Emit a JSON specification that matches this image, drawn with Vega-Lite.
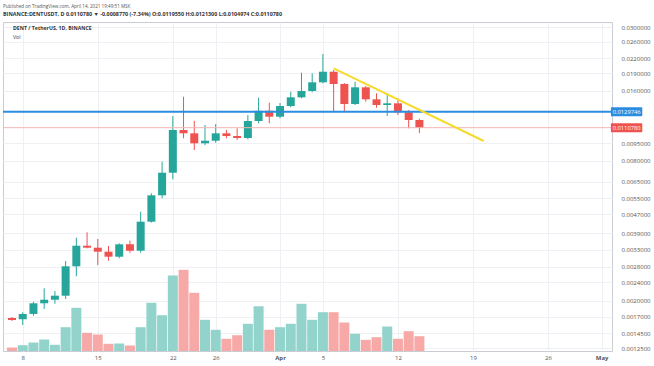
{
  "$schema": "https://vega.github.io/schema/vega-lite/v6.json",
  "width": 609,
  "height": 329,
  "autosize": "none",
  "padding": {"left": 3, "top": 22, "right": 42, "bottom": 14},
  "background": "white",
  "config": {
    "font": "Open Sans",
    "view": {"stroke": "#c9ccd2", "strokeWidth": 1}
  },
  "title": {
    "text": "Published on TradingView.com, April 14, 2021 19:49:51 MSK",
    "subtitle": "BINANCE:DENTUSDT, D 0.0110780 ▼ -0.0008770 (-7.34%) O:0.0119550 H:0.0121300 L:0.0104974 C:0.0110780",
    "anchor": "start",
    "frame": "group",
    "offset": 5,
    "fontSize": 4.6,
    "fontWeight": "normal",
    "color": "#555555",
    "subtitleFontSize": 5.4,
    "subtitleFontWeight": "bold",
    "subtitleColor": "#333333",
    "subtitlePadding": 3
  },
  "datasets": {
    "candles": [
      {"date": "2021-03-07", "open": 0.001683, "high": 0.001700, "low": 0.001634, "close": 0.001650, "volume": 70},
      {"date": "2021-03-08", "open": 0.001662, "high": 0.001781, "low": 0.001570, "close": 0.001752, "volume": 116},
      {"date": "2021-03-09", "open": 0.001752, "high": 0.001977, "low": 0.001722, "close": 0.001947, "volume": 170},
      {"date": "2021-03-10", "open": 0.001947, "high": 0.002259, "low": 0.001840, "close": 0.002017, "volume": 230},
      {"date": "2021-03-11", "open": 0.002017, "high": 0.002199, "low": 0.001938, "close": 0.002099, "volume": 124},
      {"date": "2021-03-12", "open": 0.002099, "high": 0.002959, "low": 0.002032, "close": 0.002808, "volume": 476},
      {"date": "2021-03-13", "open": 0.002808, "high": 0.003728, "low": 0.002543, "close": 0.003443, "volume": 864},
      {"date": "2021-03-14", "open": 0.003443, "high": 0.003931, "low": 0.003356, "close": 0.003376, "volume": 364},
      {"date": "2021-03-15", "open": 0.003376, "high": 0.003680, "low": 0.002844, "close": 0.003245, "volume": 330},
      {"date": "2021-03-16", "open": 0.003245, "high": 0.003433, "low": 0.002967, "close": 0.003088, "volume": 144},
      {"date": "2021-03-17", "open": 0.003088, "high": 0.003526, "low": 0.003040, "close": 0.003491, "volume": 150},
      {"date": "2021-03-18", "open": 0.003491, "high": 0.003618, "low": 0.003212, "close": 0.003277, "volume": 110},
      {"date": "2021-03-19", "open": 0.003277, "high": 0.004821, "low": 0.003212, "close": 0.004367, "volume": 476},
      {"date": "2021-03-20", "open": 0.004367, "high": 0.005784, "low": 0.004330, "close": 0.005671, "volume": 964},
      {"date": "2021-03-21", "open": 0.005671, "high": 0.007909, "low": 0.005505, "close": 0.007093, "volume": 716},
      {"date": "2021-03-22", "open": 0.007093, "high": 0.012434, "low": 0.006644, "close": 0.010825, "volume": 1510},
      {"date": "2021-03-23", "open": 0.010825, "high": 0.015052, "low": 0.009971, "close": 0.010477, "volume": 1624},
      {"date": "2021-03-24", "open": 0.010477, "high": 0.011869, "low": 0.008880, "close": 0.009490, "volume": 1164},
      {"date": "2021-03-25", "open": 0.009490, "high": 0.011373, "low": 0.009330, "close": 0.009736, "volume": 624},
      {"date": "2021-03-26", "open": 0.009736, "high": 0.011486, "low": 0.009545, "close": 0.010477, "volume": 424},
      {"date": "2021-03-27", "open": 0.010477, "high": 0.010825, "low": 0.009971, "close": 0.010201, "volume": 244},
      {"date": "2021-03-28", "open": 0.010201, "high": 0.011009, "low": 0.009805, "close": 0.010000, "volume": 316},
      {"date": "2021-03-29", "open": 0.010000, "high": 0.012557, "low": 0.009872, "close": 0.011833, "volume": 544},
      {"date": "2021-03-30", "open": 0.011833, "high": 0.014904, "low": 0.011567, "close": 0.013103, "volume": 896},
      {"date": "2021-03-31", "open": 0.013103, "high": 0.014184, "low": 0.011567, "close": 0.012348, "volume": 424},
      {"date": "2021-04-01", "open": 0.012348, "high": 0.014141, "low": 0.012155, "close": 0.013727, "volume": 476},
      {"date": "2021-04-02", "open": 0.013727, "high": 0.015816, "low": 0.013552, "close": 0.014962, "volume": 544},
      {"date": "2021-04-03", "open": 0.014962, "high": 0.019088, "low": 0.014816, "close": 0.015925, "volume": 944},
      {"date": "2021-04-04", "open": 0.015925, "high": 0.018977, "low": 0.015723, "close": 0.017359, "volume": 624},
      {"date": "2021-04-05", "open": 0.017359, "high": 0.022972, "low": 0.017187, "close": 0.019279, "volume": 776},
      {"date": "2021-04-06", "open": 0.019279, "high": 0.019606, "low": 0.013064, "close": 0.017068, "volume": 776},
      {"date": "2021-04-07", "open": 0.017068, "high": 0.017238, "low": 0.012975, "close": 0.014002, "volume": 570},
      {"date": "2021-04-08", "open": 0.014002, "high": 0.017461, "low": 0.013865, "close": 0.016520, "volume": 344},
      {"date": "2021-04-09", "open": 0.016520, "high": 0.016733, "low": 0.014325, "close": 0.014669, "volume": 224},
      {"date": "2021-04-10", "open": 0.014669, "high": 0.015567, "low": 0.013499, "close": 0.013865, "volume": 276},
      {"date": "2021-04-11", "open": 0.013865, "high": 0.015567, "low": 0.012434, "close": 0.014100, "volume": 490},
      {"date": "2021-04-12", "open": 0.014100, "high": 0.014816, "low": 0.012557, "close": 0.012900, "volume": 244},
      {"date": "2021-04-13", "open": 0.012900, "high": 0.013195, "low": 0.011009, "close": 0.011955, "volume": 396},
      {"date": "2021-04-14", "open": 0.011955, "high": 0.012130, "low": 0.0104974, "close": 0.011078, "volume": 296}
    ],
    "trend": [
      {"date": "2021-04-06", "price": 0.019939},
      {"date": "2021-04-20", "price": 0.009708}
    ],
    "one": [{}]
  },
  "resolve": {"scale": {"y": "independent"}, "axis": {"y": "independent"}},
  "layer": [
    {
      "data": {"name": "candles"},
      "mark": {"type": "bar", "size": 10},
      "encoding": {
        "x": {
          "field": "date", "type": "temporal",
          "scale": {"type": "utc", "domain": [{"year": 2021, "month": 3, "date": 6, "hours": 15, "utc": true}, {"year": 2021, "month": 5, "date": 1, "hours": 12, "utc": true}]},
          "axis": {
            "values": [
              {"year": 2021, "month": 3, "date": 8, "utc": true},
              {"year": 2021, "month": 3, "date": 15, "utc": true},
              {"year": 2021, "month": 3, "date": 22, "utc": true},
              {"year": 2021, "month": 3, "date": 26, "utc": true},
              {"year": 2021, "month": 4, "date": 1, "utc": true},
              {"year": 2021, "month": 4, "date": 5, "utc": true},
              {"year": 2021, "month": 4, "date": 12, "utc": true},
              {"year": 2021, "month": 4, "date": 19, "utc": true},
              {"year": 2021, "month": 4, "date": 26, "utc": true},
              {"year": 2021, "month": 5, "date": 1, "utc": true}
            ],
            "labelExpr": "utcdate(datum.value) == 1 ? utcFormat(datum.value, '%b') : utcFormat(datum.value, '%-d')",
            "labelFontWeight": {"condition": {"test": "utcdate(datum.value) == 1", "value": "bold"}, "value": "normal"},
            "title": null,
            "grid": true,
            "gridColor": "#eef0f4",
            "ticks": false,
            "domain": false,
            "labelFontSize": 6,
            "labelColor": "#555555",
            "labelPadding": 3
          }
        },
        "y": {"field": "volume", "type": "quantitative", "scale": {"domain": [0, 6580]}, "axis": null},
        "color": {"condition": {"test": "datum.close >= datum.open", "value": "#92d3cc"}, "value": "#f7a9a8"}
      }
    },
    {
      "layer": [
        {
          "data": {"name": "candles"},
          "mark": {"type": "rule", "strokeWidth": 1},
          "encoding": {
            "x": {"field": "date", "type": "temporal"},
            "y": {
              "field": "low", "type": "quantitative",
              "scale": {"type": "log", "domain": [0.001214, 0.03154], "nice": false, "zero": false},
              "axis": {
                "orient": "right",
                "title": null,
                "values": [0.03, 0.026, 0.022, 0.019, 0.016, 0.0095, 0.008, 0.0065, 0.0055, 0.0047, 0.0039, 0.0033, 0.0028, 0.0024, 0.002, 0.0017, 0.00145, 0.00125],
                "format": ".7f",
                "grid": true,
                "gridColor": "#eef0f4",
                "ticks": false,
                "domain": false,
                "labelFontSize": 6,
                "labelColor": "#555555",
                "labelPadding": 9
              }
            },
            "y2": {"field": "high"},
            "color": {"condition": {"test": "datum.close >= datum.open", "value": "#26a69a"}, "value": "#ef5350"}
          }
        },
        {
          "data": {"name": "candles"},
          "mark": {"type": "bar", "size": 8},
          "encoding": {
            "x": {"field": "date", "type": "temporal"},
            "y": {"field": "open", "type": "quantitative"},
            "y2": {"field": "close"},
            "color": {"condition": {"test": "datum.close >= datum.open", "value": "#26a69a"}, "value": "#ef5350"}
          }
        },
        {
          "data": {"name": "one"},
          "mark": {"type": "rule", "color": "#f3b6b5", "strokeWidth": 1},
          "encoding": {"y": {"datum": 0.011078, "type": "quantitative"}}
        },
        {
          "data": {"name": "one"},
          "mark": {"type": "rule", "color": "#2b8de0", "strokeWidth": 2},
          "encoding": {"y": {"datum": 0.0129746, "type": "quantitative"}}
        },
        {
          "data": {"name": "trend"},
          "mark": {"type": "line", "color": "#f6da2c", "strokeWidth": 2},
          "encoding": {
            "x": {"field": "date", "type": "temporal"},
            "y": {"field": "price", "type": "quantitative"}
          }
        },
        {
          "data": {"name": "one"},
          "mark": {"type": "rect", "color": "#2b8de0", "cornerRadius": 1},
          "encoding": {
            "x": {"datum": {"year": 2021, "month": 5, "date": 1, "hours": 20, "minutes": 45, "utc": true}, "type": "temporal"},
            "x2": {"datum": {"year": 2021, "month": 5, "date": 4, "hours": 19, "utc": true}},
            "y": {"datum": 0.013566, "type": "quantitative"},
            "y2": {"datum": 0.012409}
          }
        },
        {
          "data": {"name": "one"},
          "mark": {"type": "rect", "color": "#ef5350", "cornerRadius": 1},
          "encoding": {
            "x": {"datum": {"year": 2021, "month": 5, "date": 1, "hours": 20, "minutes": 45, "utc": true}, "type": "temporal"},
            "x2": {"datum": {"year": 2021, "month": 5, "date": 4, "hours": 19, "utc": true}},
            "y": {"datum": 0.011583, "type": "quantitative"},
            "y2": {"datum": 0.010595}
          }
        },
        {
          "data": {"name": "one"},
          "mark": {"type": "text", "color": "white", "fontSize": 5.8, "align": "center", "baseline": "middle"},
          "encoding": {
            "x": {"datum": {"year": 2021, "month": 5, "date": 3, "hours": 8, "utc": true}, "type": "temporal"},
            "y": {"datum": 0.0129746, "type": "quantitative"},
            "text": {"value": "0.0129746"}
          }
        },
        {
          "data": {"name": "one"},
          "mark": {"type": "text", "color": "white", "fontSize": 5.8, "align": "center", "baseline": "middle"},
          "encoding": {
            "x": {"datum": {"year": 2021, "month": 5, "date": 3, "hours": 8, "utc": true}, "type": "temporal"},
            "y": {"datum": 0.011078, "type": "quantitative"},
            "text": {"value": "0.0110780"}
          }
        },
        {
          "data": {"name": "one"},
          "mark": {"type": "text", "color": "#333333", "fontSize": 5.2, "fontWeight": "bold", "align": "left", "baseline": "middle", "dx": 1},
          "encoding": {
            "x": {"datum": {"year": 2021, "month": 3, "date": 7, "utc": true}, "type": "temporal"},
            "y": {"datum": 0.029713, "type": "quantitative"},
            "text": {"value": "DENT / TetherUS, 1D, BINANCE"}
          }
        },
        {
          "data": {"name": "one"},
          "mark": {"type": "text", "color": "#333333", "fontSize": 5.2, "align": "left", "baseline": "middle", "dx": 1},
          "encoding": {
            "x": {"datum": {"year": 2021, "month": 3, "date": 7, "utc": true}, "type": "temporal"},
            "y": {"datum": 0.027181, "type": "quantitative"},
            "text": {"value": "Vol"}
          }
        }
      ]
    }
  ]
}
